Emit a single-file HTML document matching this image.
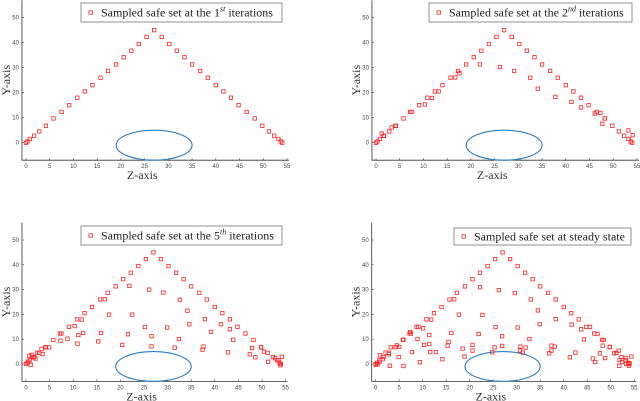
<!DOCTYPE html>
<html><head><meta charset="utf-8"><style>
html,body{margin:0;padding:0;background:#fff;}
svg{display:block;}
</style></head><body>
<svg id="fig" width="640" height="401" viewBox="0 0 640 401" xmlns="http://www.w3.org/2000/svg"></svg>
<script>
const xTicks=[0,5,10,15,20,25,30,35,40,45,50,55];
const yTicks=[0,10,20,30,40,50];
const triLeftX=[0,0.3,0.8,1.7,2.8,4.2,5.8,7.5,9.1,10.8,12.4,14,15.7,17.3,19,20.6,22.2,23.8,25.4,27];
const triLeftY=[0,0.5,1.5,2.8,4.5,6.8,9.7,12.3,15,18,20.5,23,26,28.7,31.3,34.2,36.8,39.5,42.3,45];
const triRightX=[28.6,30.2,31.8,33.4,35,36.7,38.3,40,41.6,43.2,44.8,46.5,48.2,49.8,51.2,52.3,53.2,53.7,54];
const triRightY=[42.3,39.5,36.8,34.2,31.3,28.7,26,23,20.5,18,15,12.3,9.7,6.8,4.5,2.8,1.5,0.5,0];
const extra2X=[26.1,21.9,29.1,32.5,34.1,37.8,41.2,43.2,46.1,47.7,16.7,11.8,10.3,7.2,1.6,1.2,4.1,3.3,54.1,53.2,17.6,13.2,48.2,47.3];
const extra2Y=[30.3,31.3,28.7,26,21.6,18.3,16.3,14.1,11.7,7.6,26.1,17.9,15.3,12.3,2.7,3.7,6.7,6.1,3,4.9,27.8,20.5,9.7,11.9];
const extra5X=[26.1,21.9,29.1,32.6,34.2,37.9,39.2,41.3,43.2,43.9,42.8,48.6,47.4,51.3,17.6,22.5,25.2,26.6,29.9,32.4,34.6,26.6,31.5,37.6,37.4,20.4,21.6,15.9,15.3,11.1,10.9,8.8,7.3,4.9,1,12.1,16.7,11.8,10.3,7.2,1.6,1.2,4.1,3.3,0.5,0.7,2,2.4,3.5,53.9,53.5,52.8,54.2,50.4,49.8,47.9];
const extra5Y=[30,31.5,28.8,25.9,21.5,18.1,13,16,14,9.8,4.7,2.7,3.9,0.9,19.9,19.9,14.9,11.2,14.7,10.1,16,7.1,6.6,7,5.8,7.7,12,12.5,9.1,11.7,8.2,10.2,9.4,6.7,-0.4,12.5,26.1,17.9,15.3,12.3,2.7,3.7,6.7,6.1,1,3.3,2.2,4.5,4,-0.5,1.5,2.3,2.9,5,6.7,6.4];
const extra4X=[26.2,22.2,29.6,33,34.5,38.3,41.7,43.7,44.3,41.3,42.5,45.6,47.2,48.5,48.3,49.8,48.8,46.2,46.7,47.7,50.7,51.7,51.9,53.2,54.4,54,53.3,53.9,51.8,52.4,22.7,17.7,21.9,25.5,26.9,30.2,32.7,34.9,26.9,25.3,24.8,30.8,30.7,31.3,31.9,37.4,38.1,37.4,36.9,20.6,20.6,18.9,18.5,14.2,16.1,15.5,15.3,12.8,11.6,11.4,11.4,10.3,8.9,9.4,7.7,5.9,5.9,5,4.9,4.5,3.2,2.8,3,2.1,1.5,0.9,0.8,0.4,0,7.3,8.7,10.1,16.7,11.8,7.2];
const extra4Y=[29.8,31,28.6,26,21.6,18.1,15.9,14,9.9,2.7,4.6,15,12.1,9.7,7.4,6.9,2.4,2.2,0.8,4.3,4.3,5.4,1.6,2.4,3,0.3,0,-0.7,-0.7,0.8,19.8,19.9,12.1,14.9,11.2,14.7,10.1,16,7.3,6.7,4.7,7,5.4,4.6,6.6,7.4,7,5.4,4.3,7.7,5.4,3,6.2,1.9,12.5,8.9,7.4,4.8,4.8,11.7,8.1,7.7,10.1,0.7,4.8,9.8,-0.8,6.9,2.8,7.5,6.7,3.9,-0.7,4.6,1.9,3.5,0.9,-0.1,-0.3,12.9,15,14.4,26.1,17.9,12.3];
const ellipseCX=27, ellipseCY=-1, ellipseRX=8, ellipseRY=6;

const NS="http://www.w3.org/2000/svg";
const svg=document.getElementById('fig');
const SERIF='"Liberation Serif", serif', SANS='"Liberation Sans", sans-serif';
function mk(tag,attrs,parent){const e=document.createElementNS(NS,tag);for(const k in attrs)e.setAttribute(k,attrs[k]);(parent||svg).appendChild(e);return e;}

const panels=[
 {x0:26,y0:142.7,sx:4.745,sy:2.5,ord:"1",sup:"st",exX:[],exY:[],leg:[81,3,201,19]},
 {x0:376,y0:142.7,sx:4.745,sy:2.5,ord:"2",sup:"nd",exX:extra2X,exY:extra2Y,leg:[429,3,203,19]},
 {x0:26,y0:364,sx:4.72,sy:2.48,ord:"5",sup:"th",exX:extra5X,exY:extra5Y,leg:[81,226,201,19]},
 {x0:375.7,y0:364,sx:4.7,sy:2.48,ord:null,exX:extra4X,exY:extra4Y,leg:[454,228,177,17]}
];
panels.forEach((p,i)=>{
  const g=mk('g',{});
  
  
  const X=v=>p.x0+v*p.sx, Y=v=>p.y0-v*p.sy;
  const ax=mk('path',{d:`M${X(-0.85)} ${Y(57)} L${X(-0.85)} ${Y(-7)} L${X(55.4)} ${Y(-7)}`,fill:'none',stroke:'#333','stroke-width':0.8},g);
  
  
  xTicks.forEach(t=>{
    mk('line',{x1:X(t),x2:X(t),y1:Y(-7),y2:Y(-7)-2,stroke:'#333','stroke-width':0.6},g);
    const tx=mk('text',{x:X(t),y:Y(-7)+8,'text-anchor':'middle','font-family':SANS,'font-size':6,fill:'#444'},g);tx.textContent=t;
    
    
  });
  yTicks.forEach(t=>{
    mk('line',{x1:X(-0.85),x2:X(-0.85)+2,y1:Y(t),y2:Y(t),stroke:'#333','stroke-width':0.6},g);
    const tx=mk('text',{x:X(-0.85)-3,y:Y(t)+2,'text-anchor':'end','font-family':SANS,'font-size':6,fill:'#444'},g);tx.textContent=t;
    
    
  });
  const xl=mk('text',{x:X(24.5),y:Y(-7)+19,'text-anchor':'middle','font-family':SERIF,'font-size':12,fill:'#333'},g);xl.textContent='Z-axis';
  
  
  const cy=Y(25);
  const yl=mk('text',{x:p.x0-16,y:cy,'text-anchor':'middle','font-family':SERIF,'font-size':12,fill:'#333',transform:`rotate(-90 ${p.x0-16} ${cy})`},g);yl.textContent='Y-axis';
  
  
  const el=mk('ellipse',{cx:X(ellipseCX),cy:Y(ellipseCY),rx:ellipseRX*p.sx,ry:ellipseRY*p.sy,fill:'none',stroke:'#2a7fc0','stroke-width':1.1},g);
  
  
  const xs=triLeftX.concat(triRightX,p.exX), ys=triLeftY.concat(triRightY,p.exY);
  xs.forEach((v,k)=>{
    const r=mk('rect',{x:X(v)-1.7,y:Y(ys[k])-1.7,width:3.4,height:3.4,fill:'none',stroke:'#f22','stroke-width':0.8},g);
    
    
  });
  const [lx,ly,lw,lh]=p.leg;
  const lg=mk('g',{},g);
  
  
  mk('rect',{x:lx,y:ly,width:lw,height:lh,fill:'#fff',stroke:'#777','stroke-width':0.8},lg);
  mk('rect',{x:lx+8,y:ly+lh/2-1.7,width:3.4,height:3.4,fill:'none',stroke:'#f22','stroke-width':0.8},lg);
  const t=mk('text',{x:lx+20,y:ly+lh/2+4,'font-family':SERIF,'font-size':12,fill:'#222'},lg);
  if(p.ord){
    t.textContent='Sampled safe set at the '+p.ord;
    const s=mk('tspan',{dy:-5,'font-size':'8','font-style':'italic'},t);s.textContent=p.sup;
    const r=mk('tspan',{dy:5},t);r.textContent=' iterations';
  } else t.textContent='Sampled safe set at steady state';
});
</script>
</body></html>
